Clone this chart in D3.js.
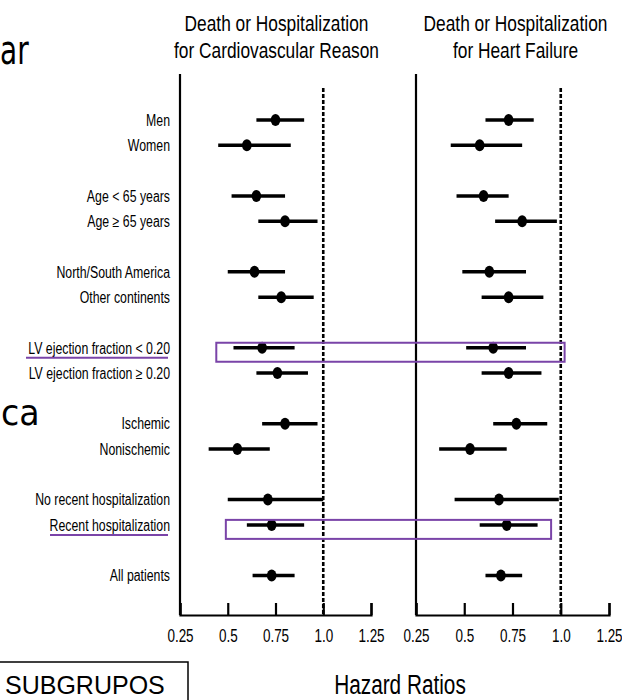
<!DOCTYPE html>
<html>
<head>
<meta charset="utf-8">
<script src="https://cdn.jsdelivr.net/npm/d3@7"></script>
<style>
  body { margin: 0; background: #fff; }
</style>
</head>
<body>
<div class="forest"></div>
<script>
// subgroups and where they sit (row index, blank rows between groups)
var labels = ["Men", "Women", "Age < 65 years", "Age \u2265 65 years",
  "North/South America", "Other continents",
  "LV ejection fraction < 0.20", "LV ejection fraction \u2265 0.20",
  "Ischemic", "Nonischemic", "No recent hospitalization", "Recent hospitalization",
  "All patients"];
var rows = [0, 1, 3, 4, 6, 7, 9, 10, 12, 13, 15, 16, 18];

// death or hospitalization for cardiovascular reason
var cvHR   = [0.75, 0.60, 0.65, 0.80, 0.64, 0.78, 0.68, 0.76, 0.80, 0.55, 0.71, 0.73, 0.73];
var cvLow  = [0.65, 0.45, 0.52, 0.66, 0.50, 0.66, 0.53, 0.65, 0.68, 0.40, 0.50, 0.60, 0.63];
var cvHigh = [0.90, 0.83, 0.80, 0.97, 0.80, 0.95, 0.85, 0.92, 0.97, 0.72, 1.00, 0.90, 0.85];

// death or hospitalization for heart failure
var hfHR   = [0.73, 0.58, 0.60, 0.80, 0.63, 0.73, 0.65, 0.73, 0.77, 0.53, 0.68, 0.72, 0.69];
var hfLow  = [0.61, 0.43, 0.46, 0.66, 0.49, 0.59, 0.51, 0.59, 0.65, 0.37, 0.45, 0.58, 0.61];
var hfHigh = [0.86, 0.80, 0.73, 0.98, 0.82, 0.91, 0.82, 0.90, 0.93, 0.72, 0.99, 0.88, 0.80];

var tickValues = [0.25, 0.5, 0.75, 1.0, 1.25];
var tickLabels = ["0.25", "0.5", "0.75", "1.0", "1.25"];

// purple boxes drawn over the slide (row, from HR on left panel, to HR on right panel)
var highlightRows = [9, 16];
var highlightFrom = [0.44, 0.49];
var highlightTo = [1.02, 0.95];
var underlined = [6, 11]; // label index with purple underline

var W = 622, H = 700;
var purple = "#7a44a8";
var sans = "'Liberation Sans', Arial, sans-serif";
var squeeze = 0.77; // no narrow font installed, so squeeze Liberation Sans

var svg = d3.select(".forest").append("svg")
  .attr("width", W).attr("height", H);

// place a squeezed text at x,y
function narrowText(sel, x, y) {
  sel.attr("x", 0).attr("y", 0)
    .attr("transform", (d, i) => "translate(" + (typeof x === "function" ? x(d, i) : x) + "," +
      (typeof y === "function" ? y(d, i) : y) + ") scale(" + squeeze + ",1)")
    .style("font-family", sans);
}

var y = d3.scaleLinear().domain([0, 18]).range([120, 575.5]);
var axisY = 615, axisTop = 74;

var panels = [
  {x: d3.scaleLinear().domain([0.25, 1.25]).range([180, 371]),
   title: ["Death or Hospitalization", "for Cardiovascular Reason"],
   hr: cvHR, lo: cvLow, hi: cvHigh},
  {x: d3.scaleLinear().domain([0.25, 1.25]).range([416, 609]),
   title: ["Death or Hospitalization", "for Heart Failure"],
   hr: hfHR, lo: hfLow, hi: hfHigh}
];

// cropped slide text at the left edge
svg.append("text").attr("transform", "translate(0,64) scale(0.7,1)")
  .style("font-family", "'DejaVu Sans', sans-serif").style("font-size", "40px")
  .text("ar");
svg.append("text").attr("transform", "translate(1,425) scale(0.95,1)")
  .style("font-family", "'DejaVu Sans', sans-serif").style("font-size", "35px")
  .text("ca");

panels.forEach(function(p, k) {
  var g = svg.append("g");
  var cx = (p.x.range()[0] + p.x.range()[1]) / 2 + 1 + k * 2;

  g.selectAll(".title").data(p.title).enter().append("text")
    .call(narrowText, cx, (d, i) => 31 + i * 27)
    .attr("text-anchor", "middle")
    .style("font-size", "22.5px")
    .text(d => d);

  // x axis with ticks pointing up
  var ax = d3.axisBottom(p.x)
    .tickValues(tickValues)
    .tickFormat((d, i) => tickLabels[i])
    .tickSizeInner(-12).tickSizeOuter(-12).tickPadding(15);
  var axg = g.append("g").attr("transform", "translate(0," + axisY + ")").call(ax);
  axg.select(".domain").attr("stroke-width", 2.2);
  axg.selectAll(".tick line").attr("stroke-width", 2.2);
  axg.selectAll(".tick text")
    .attr("transform", "scale(" + squeeze + ",1)")
    .style("font-family", sans).style("font-size", "17.5px").attr("fill", "#000");

  // y axis line
  g.append("line")
    .attr("x1", p.x(0.25)).attr("x2", p.x(0.25))
    .attr("y1", axisTop).attr("y2", axisY)
    .attr("stroke", "#000").attr("stroke-width", 2.2);

  // reference line at HR = 1
  g.append("line")
    .attr("x1", p.x(1)).attr("x2", p.x(1))
    .attr("y1", 88).attr("y2", axisY)
    .attr("stroke", "#000").attr("stroke-width", 2.6)
    .attr("stroke-dasharray", "4,2");

  g.selectAll(".ci").data(rows).enter().append("line")
    .attr("x1", (d, i) => p.x(p.lo[i])).attr("x2", (d, i) => p.x(p.hi[i]))
    .attr("y1", d => y(d)).attr("y2", d => y(d))
    .attr("stroke", "#000").attr("stroke-width", 3.5);

  g.selectAll(".pt").data(rows).enter().append("ellipse")
    .attr("cx", (d, i) => p.x(p.hr[i])).attr("cy", d => y(d))
    .attr("rx", 4.8).attr("ry", 6)
    .attr("fill", "#000");
});

// subgroup labels
svg.selectAll(".lab").data(labels).enter().append("text")
  .call(narrowText, 170, (d, i) => y(rows[i]))
  .attr("dy", "0.36em")
  .attr("text-anchor", "end")
  .style("font-size", "16px")
  .text(d => d);

// purple annotations
highlightRows.forEach(function(r, i) {
  var x0 = panels[0].x(highlightFrom[i]), x1 = panels[1].x(highlightTo[i]);
  svg.append("rect")
    .attr("x", x0).attr("y", y(r) - 5)
    .attr("width", x1 - x0).attr("height", 19)
    .attr("fill", "none").attr("stroke", purple).attr("stroke-width", 2);
});
svg.selectAll(".uline").data(underlined).enter().append("line")
  .attr("x1", d => d === 6 ? 26 : 50).attr("x2", 168)
  .attr("y1", d => y(rows[d]) + 10).attr("y2", d => y(rows[d]) + 10)
  .attr("stroke", purple).attr("stroke-width", 2);

svg.append("text")
  .call(narrowText, 400, 694)
  .attr("text-anchor", "middle")
  .style("font-size", "27px")
  .text("Hazard Ratios");

// SUBGRUPOS box cut off at the bottom edge
svg.append("rect").attr("x", -2).attr("y", 662).attr("width", 190).attr("height", 50)
  .attr("fill", "none").attr("stroke", "#000").attr("stroke-width", 1.5);
svg.append("text").attr("x", 5).attr("y", 694)
  .style("font-family", sans).style("font-size", "25px")
  .text("SUBGRUPOS");
</script>
</body>
</html>
